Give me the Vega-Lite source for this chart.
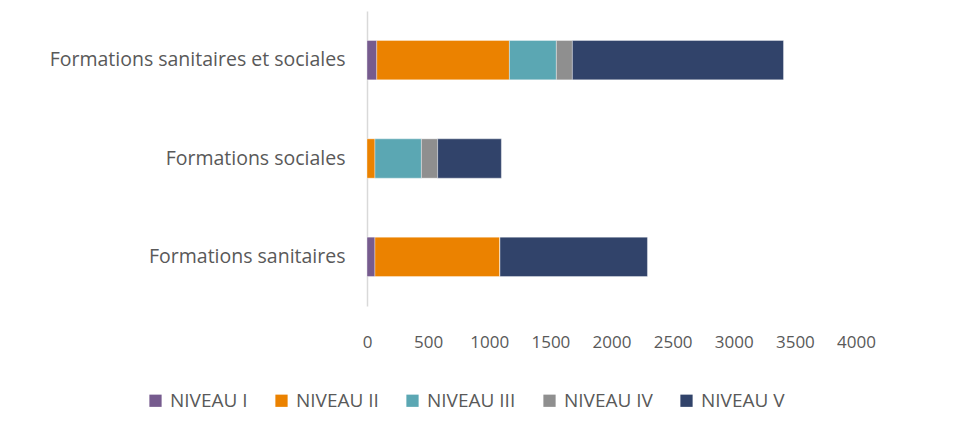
{
  "$schema": "https://vega.github.io/schema/vega-lite/v6.json",
  "autosize": "none",
  "width": 489,
  "height": 295,
  "padding": {"left": 367, "top": 11, "right": 112, "bottom": 119},
  "background": "white",
  "config": {
    "view": {"stroke": null},
    "font": "Open Sans",
    "axis": {"labelFont": "Open Sans", "labelColor": "#595959"},
    "legend": {"labelFont": "Open Sans", "labelColor": "#595959", "labelFontSize": 19}
  },
  "data": {
    "values": [
      {"formation": "Formations sanitaires et sociales", "niveau": "NIVEAU I", "effectif": 80},
      {"formation": "Formations sanitaires et sociales", "niveau": "NIVEAU II", "effectif": 1085},
      {"formation": "Formations sanitaires et sociales", "niveau": "NIVEAU III", "effectif": 384},
      {"formation": "Formations sanitaires et sociales", "niveau": "NIVEAU IV", "effectif": 131},
      {"formation": "Formations sanitaires et sociales", "niveau": "NIVEAU V", "effectif": 1727},
      {"formation": "Formations sociales", "niveau": "NIVEAU I", "effectif": 0},
      {"formation": "Formations sociales", "niveau": "NIVEAU II", "effectif": 65},
      {"formation": "Formations sociales", "niveau": "NIVEAU III", "effectif": 380},
      {"formation": "Formations sociales", "niveau": "NIVEAU IV", "effectif": 133},
      {"formation": "Formations sociales", "niveau": "NIVEAU V", "effectif": 521},
      {"formation": "Formations sanitaires", "niveau": "NIVEAU I", "effectif": 65},
      {"formation": "Formations sanitaires", "niveau": "NIVEAU II", "effectif": 1023},
      {"formation": "Formations sanitaires", "niveau": "NIVEAU III", "effectif": 0},
      {"formation": "Formations sanitaires", "niveau": "NIVEAU IV", "effectif": 0},
      {"formation": "Formations sanitaires", "niveau": "NIVEAU V", "effectif": 1206}
    ]
  },
  "mark": {"type": "bar", "stroke": "#ffffff", "strokeWidth": 0.6, "strokeOpacity": 0.6},
  "encoding": {
    "y": {
      "field": "formation",
      "type": "nominal",
      "sort": ["Formations sanitaires et sociales", "Formations sociales", "Formations sanitaires"],
      "scale": {"paddingInner": 0.6, "paddingOuter": 0.3},
      "axis": {"title": null, "ticks": false, "domain": true, "domainColor": "#D9D9D9", "domainWidth": 1.5, "labelPadding": 22, "labelLimit": 0, "labelFontSize": 19.5}
    },
    "x": {
      "field": "effectif",
      "type": "quantitative",
      "stack": "zero",
      "scale": {"domain": [0, 4000], "nice": false},
      "axis": {"title": null, "values": [0, 500, 1000, 1500, 2000, 2500, 3000, 3500, 4000], "format": "d", "grid": false, "domain": false, "ticks": false, "labelPadding": 28, "labelFlush": false, "labelFontSize": 17}
    },
    "color": {
      "field": "niveau",
      "type": "nominal",
      "scale": {
        "domain": ["NIVEAU I", "NIVEAU II", "NIVEAU III", "NIVEAU IV", "NIVEAU V"],
        "range": ["#765B8E", "#EB8200", "#5BA7B3", "#8F8F8F", "#31436A"]
      },
      "legend": {
        "title": null,
        "orient": "none",
        "direction": "horizontal",
        "legendX": -221,
        "legendY": 380,
        "symbolType": "square",
        "symbolSize": 150,
        "symbolStrokeWidth": 0,
        "labelOffset": 5,
        "columnPadding": 24
      }
    },
    "order": {"field": "niveau", "sort": "ascending"}
  }
}
